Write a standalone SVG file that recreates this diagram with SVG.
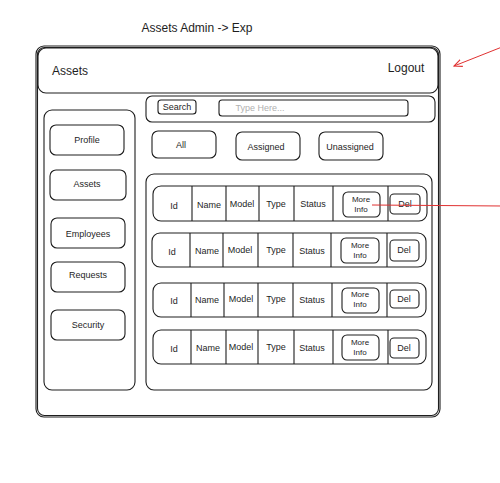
<svg xmlns="http://www.w3.org/2000/svg" width="500" height="483" viewBox="0 0 500 483">
<defs>
<style>
.b{fill:none;stroke:#1e1e1e;stroke-width:1.1}
.t{font-family:"Liberation Sans",Arial,sans-serif;fill:#1e1e1e;text-anchor:middle}
.s9{font-size:9px}
.s8{font-size:8px}
.s12{font-size:12px}
.red{stroke:#e03131;stroke-width:1;fill:none}
</style>
<marker id="ah" viewBox="0 0 10 10" refX="9" refY="5" markerWidth="9" markerHeight="9" orient="auto" markerUnits="userSpaceOnUse">
<path d="M0,1 L9,5 L0,9" fill="none" stroke="#e03131" stroke-width="1.2"/>
</marker>
</defs>
<rect width="500" height="483" fill="#ffffff"/>

<g id="title"><text class="t s12" x="197" y="32">Assets Admin -&gt; Exp</text></g>

<g id="frame">
<rect class="b" x="36" y="46" width="404" height="371" rx="8"/>
<rect class="b" x="37.5" y="47.5" width="401" height="368" rx="7" stroke-width="0.6"/>
</g>

<g id="header">
<rect class="b" x="38" y="48" width="400" height="45" rx="8"/>
<text class="t s12" x="70" y="75">Assets</text>
<text class="t s12" x="406" y="72">Logout</text>
</g>

<g id="searchbar">
<rect class="b" x="146" y="96" width="289" height="26" rx="6"/>
<rect class="b" x="158" y="100" width="38" height="14" rx="3"/>
<text class="t s9" x="177" y="110">Search</text>
<rect class="b" x="219" y="100" width="189" height="16" rx="3"/>
<text class="t s9" x="260" y="111" fill="#b0b0b0" style="fill:#b0b0b0">Type Here...</text>
</g>

<g id="sidebar">
<rect class="b" x="44" y="110" width="91" height="280" rx="8"/>
</g>
<g id="nav-profile"><rect class="b" x="50" y="125" width="74" height="30" rx="6"/><text class="t s9" x="87" y="143">Profile</text></g>
<g id="nav-assets"><rect class="b" x="50" y="170" width="76" height="30" rx="6"/><text class="t s9" x="87" y="187">Assets</text></g>
<g id="nav-employees"><rect class="b" x="51" y="218" width="74" height="30" rx="6"/><text class="t s9" x="88" y="237">Employees</text></g>
<g id="nav-requests"><rect class="b" x="51" y="262" width="74" height="30" rx="6"/><text class="t s9" x="88" y="278">Requests</text></g>
<g id="nav-security"><rect class="b" x="51" y="310" width="74" height="30" rx="6"/><text class="t s9" x="88" y="328">Security</text></g>

<g id="filter-all"><rect class="b" x="152" y="131" width="64" height="27" rx="6"/><text class="t s9" x="181" y="148">All</text></g>
<g id="filter-assigned"><rect class="b" x="236" y="132" width="64" height="28" rx="6"/><text class="t s9" x="266" y="150">Assigned</text></g>
<g id="filter-unassigned"><rect class="b" x="319" y="132" width="64" height="28" rx="6"/><text class="t s9" x="350" y="150">Unassigned</text></g>

<g id="table">
<rect class="b" x="146" y="174" width="286" height="216" rx="8"/>
</g>

<g id="row1">
<rect class="b" x="153" y="186" width="274" height="35" rx="8"/>
<path class="b" d="M192 186V221M226 186V221M259 186V221M294 186V221M333 186V221M388 186V221"/>
<text class="t s9" x="174" y="209">Id</text>
<text class="t s9" x="209" y="208">Name</text>
<text class="t s9" x="242" y="207">Model</text>
<text class="t s9" x="276" y="207">Type</text>
<text class="t s9" x="313" y="207">Status</text>
<rect class="b" x="343" y="192" width="37" height="25" rx="5"/>
<text class="t s8" x="361" y="202">More</text>
<text class="t s8" x="361" y="212">Info</text>
<rect class="b" x="390" y="194" width="30" height="20" rx="4"/>
<text class="t s9" x="405" y="207">Del</text>
</g>

<g id="row2">
<rect class="b" x="152" y="233" width="274" height="34" rx="8"/>
<path class="b" d="M190 233V267M223 233V267M258 233V267M293 233V267M331 233V267M387 233V267"/>
<text class="t s9" x="172" y="255">Id</text>
<text class="t s9" x="207" y="254">Name</text>
<text class="t s9" x="240" y="253">Model</text>
<text class="t s9" x="276" y="253">Type</text>
<text class="t s9" x="312" y="254">Status</text>
<rect class="b" x="341" y="238" width="38" height="25" rx="5"/>
<text class="t s8" x="360" y="248">More</text>
<text class="t s8" x="360" y="258">Info</text>
<rect class="b" x="390" y="240" width="29" height="21" rx="4"/>
<text class="t s9" x="404" y="253">Del</text>
</g>

<g id="row3">
<rect class="b" x="153" y="283" width="273" height="34" rx="8"/>
<path class="b" d="M191 283V317M224 283V317M258 283V317M293 283V317M332 283V317M387 283V317"/>
<text class="t s9" x="174" y="304">Id</text>
<text class="t s9" x="207" y="303">Name</text>
<text class="t s9" x="241" y="302">Model</text>
<text class="t s9" x="276" y="302">Type</text>
<text class="t s9" x="312" y="303">Status</text>
<rect class="b" x="342" y="288" width="37" height="25" rx="5"/>
<text class="t s8" x="360" y="297">More</text>
<text class="t s8" x="360" y="307">Info</text>
<rect class="b" x="390" y="290" width="29" height="18" rx="4"/>
<text class="t s9" x="404" y="302">Del</text>
</g>

<g id="row4">
<rect class="b" x="153" y="330" width="273" height="34" rx="8"/>
<path class="b" d="M191 330V364M226 330V364M258 330V364M294 330V364M333 330V364M388 330V364"/>
<text class="t s9" x="174" y="352">Id</text>
<text class="t s9" x="208" y="351">Name</text>
<text class="t s9" x="241" y="350">Model</text>
<text class="t s9" x="276" y="350">Type</text>
<text class="t s9" x="312" y="351">Status</text>
<rect class="b" x="342" y="335" width="37" height="25" rx="5"/>
<text class="t s8" x="360" y="345">More</text>
<text class="t s8" x="360" y="355">Info</text>
<rect class="b" x="390" y="338" width="29" height="20" rx="4"/>
<text class="t s9" x="404" y="351">Del</text>
</g>

<g id="connectors">
<path class="red" d="M502 47 L454 66" marker-end="url(#ah)"/>
<path class="red" d="M502 206 L372 205"/>
</g>
</svg>
